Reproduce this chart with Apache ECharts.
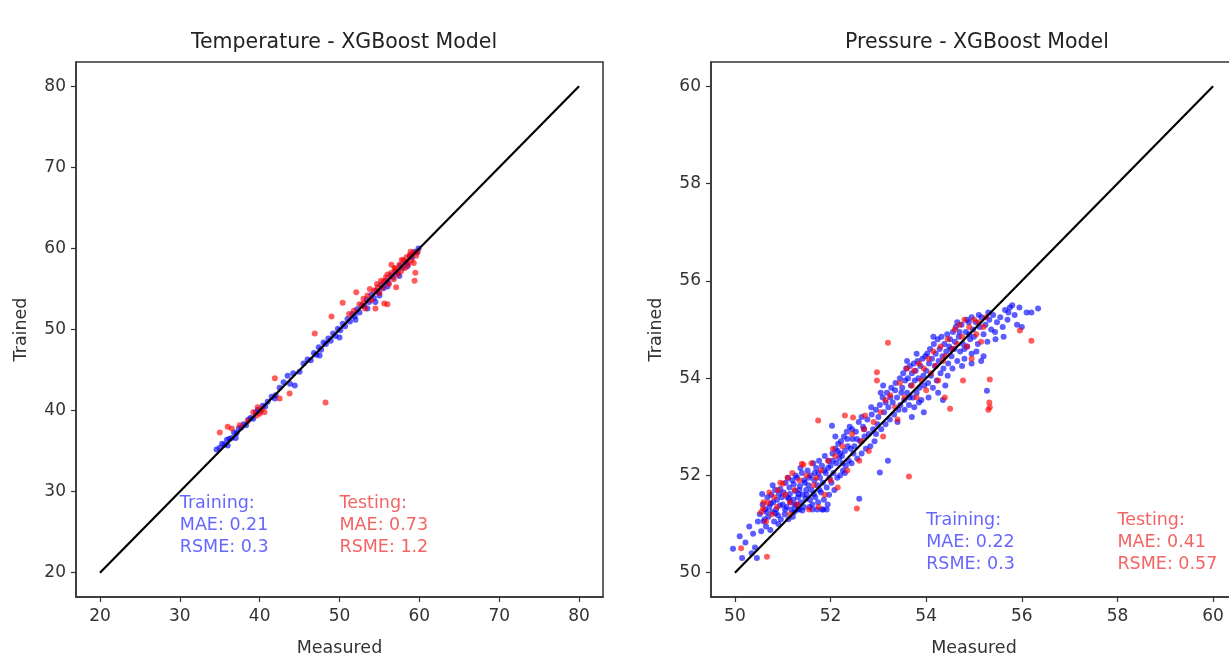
<!DOCTYPE html>
<html>
<head>
<meta charset="utf-8">
<script src="https://cdn.jsdelivr.net/npm/echarts@6/dist/echarts.min.js"></script>
<style>
html,body{margin:0;padding:0;background:#fff;}
#c{width:1229px;height:658px;}
</style>
</head>
<body>
<div id="c"></div>
<script>
// ---------- DATA ----------
var tempTitle = "Temperature - XGBoost Model";
var pressTitle = "Pressure - XGBoost Model";
var xName = "Measured";
var yName = "Trained";

var tempRange = [17, 83];
var pressRange = [49.5, 60.5];
var tempTicks = [20, 30, 40, 50, 60, 70, 80];
var pressTicks = [50, 52, 54, 56, 58, 60];
var tempLine = [[20, 20], [80, 80]];
var pressLine = [[50, 50], [60, 60]];

var tempTrain = [
[34.6,35.2],[35.0,35.4],[35.3,35.9],[35.6,35.8],[35.9,36.4],[36.2,36.5],[36.5,36.6],[36.8,37.3],[37.1,37.2],[37.4,37.8],
[37.7,37.9],[38.0,38.3],[38.3,38.2],[38.6,38.9],[38.9,39.1],[39.2,39.0],[39.5,39.8],[39.8,40.1],[40.1,39.9],[40.4,40.6],
[40.7,40.5],[41.0,41.1],[41.9,41.5],[42.5,42.8],[43.0,43.5],[43.5,44.3],[43.8,43.3],[44.2,44.6],[44.4,43.1],[45.5,45.8],
[46.0,46.3],[46.4,46.2],[46.8,47.1],[47.1,46.9],[47.4,47.8],[47.7,47.5],[48.0,48.4],[48.3,48.2],[48.6,48.9],[48.9,48.6],
[49.2,49.5],[49.5,49.2],[49.8,50.1],[50.1,49.9],[50.4,50.7],[50.7,50.4],[51.0,51.3],[51.3,51.0],[51.6,51.9],[51.9,51.6],
[52.2,52.5],[52.5,52.1],[52.8,53.0],[53.1,52.9],[53.4,53.7],[53.7,53.4],[54.0,54.3],[54.3,53.9],[54.6,54.8],[54.9,54.6],
[55.2,55.5],[55.5,55.1],[55.8,56.0],[56.1,55.8],[56.4,56.7],[56.7,56.4],[57.0,57.2],[57.3,57.0],[57.6,57.9],[57.9,57.6],
[58.2,58.4],[58.5,58.2],[58.8,59.0],[59.1,58.9],[59.4,59.6],[59.7,59.5],[59.9,60.0],[52.0,51.2],[53.5,52.6],[50.0,49.0],
[47.5,46.8],[45.0,44.8],[41.5,41.7],[42.0,41.9],[36.0,35.7],[37.0,36.6],[56.0,55.3],[57.5,56.6],[58.5,57.8],[55.0,54.2],
[54.5,53.4]
];
var tempTest = [
[35.0,37.3],[36.0,38.0],[36.5,37.8],[37.5,38.2],[38.5,38.7],[39.2,39.8],[39.75,40.4],[40.0,39.6],[39.6,39.4],[40.3,40.2],
[40.6,39.8],[41.9,44.0],[43.75,42.1],[42.5,41.5],[48.25,41.0],[46.9,49.5],[49.0,51.6],[50.4,53.3],[51.2,51.9],[51.8,52.3],
[52.1,54.6],[52.5,53.1],[53.0,53.8],[53.2,52.6],[53.5,54.2],[53.8,55.0],[54.0,53.6],[54.3,54.8],[54.5,52.6],[54.7,55.6],
[55.0,54.5],[55.2,56.0],[55.4,55.2],[55.6,53.2],[56.0,53.1],[55.8,56.4],[56.0,56.8],[56.2,55.6],[56.5,57.0],[56.5,58.0],
[56.8,56.2],[57.0,57.5],[57.1,55.2],[57.3,56.8],[57.5,58.0],[57.7,57.2],[58.0,58.5],[58.2,57.6],[58.4,58.9],[58.6,58.0],
[58.8,59.2],[59.0,58.5],[59.2,59.4],[59.4,56.0],[59.5,57.0],[59.6,59.1],[59.8,59.6],[53.0,53.2],[54.8,55.2],[55.5,55.9],
[56.9,57.6],[57.8,58.6],[58.9,59.6],[59.3,58.2]
];

var pressTrain = [
[49.96,50.49],[50.15,50.30],[50.38,50.80],[50.46,50.30],[50.22,50.62],[50.30,50.95],[50.42,50.52],[50.10,50.75],[50.48,51.05],[50.35,50.40],
[50.52,51.20],[50.55,50.85],[50.58,51.40],[50.60,51.05],[50.63,51.30],[50.65,50.95],[50.68,51.55],[50.70,51.15],[50.72,51.35],[50.74,50.88],
[50.76,51.60],[50.78,51.25],[50.80,51.45],[50.82,51.05],[50.84,51.70],[50.86,51.30],[50.88,51.50],[50.90,51.18],[50.92,51.62],[50.94,51.38],
[50.96,51.10],[50.98,51.55],[50.62,51.10],[50.75,51.42],[50.85,51.22],[50.95,51.72],[50.57,51.62],[50.66,51.25],[50.79,51.80],[50.91,51.00],
[51.00,51.40],[51.02,51.65],[51.04,51.20],[51.06,51.85],[51.08,51.35],[51.10,51.55],[51.12,51.10],[51.14,51.75],[51.16,51.45],[51.18,51.30],
[51.20,51.90],[51.22,51.50],[51.24,51.25],[51.26,51.68],[51.28,51.40],[51.30,51.95],[51.32,51.55],[51.34,51.30],[51.36,51.78],[51.38,51.45],
[51.40,52.05],[51.42,51.60],[51.44,51.35],[51.46,51.85],[51.48,51.52],[51.05,51.30],[51.15,51.62],[51.25,51.38],[51.35,51.70],[51.45,51.90],
[51.11,51.95],[51.21,51.15],[51.31,51.30],[51.41,51.28],[51.49,51.70],[51.27,52.00],[51.37,52.15],[51.13,51.52],[51.23,51.82],[51.33,51.62],
[51.50,51.60],[51.52,52.10],[51.54,51.80],[51.56,51.35],[51.58,52.00],[51.60,51.70],[51.62,51.40],[51.64,52.25],[51.66,51.90],[51.68,51.55],
[51.70,52.15],[51.72,51.80],[51.74,51.45],[51.76,52.30],[51.78,51.95],[51.80,51.65],[51.82,52.20],[51.84,51.85],[51.86,51.50],[51.88,52.40],
[51.90,52.05],[51.92,51.75],[51.94,51.40],[51.96,52.30],[51.98,51.95],[51.55,51.95],[51.65,51.62],[51.75,52.05],[51.85,51.30],[51.95,52.15],
[51.57,51.50],[51.67,52.05],[51.77,51.70],[51.87,52.10],[51.97,51.60],[51.62,51.30],[51.72,51.30],[51.82,51.30],[51.92,51.30],[52.03,53.02],
[52.00,52.20],[52.02,51.85],[52.04,52.45],[52.06,52.05],[52.08,51.70],[52.10,52.55],[52.12,52.25],[52.14,51.95],[52.16,52.65],[52.18,52.35],
[52.20,52.00],[52.22,52.70],[52.24,52.40],[52.26,52.10],[52.28,52.80],[52.30,52.50],[52.32,52.20],[52.34,52.90],[52.36,52.60],[52.38,52.30],
[52.40,53.00],[52.42,52.55],[52.44,52.25],[52.46,52.75],[52.48,52.45],[52.05,52.30],[52.15,52.50],[52.25,52.25],[52.35,52.75],[52.45,52.95],
[52.60,51.52],[52.10,52.80],[52.30,52.05],[52.20,52.45],
[52.50,52.60],[52.53,52.90],[52.56,52.35],[52.59,53.10],[52.62,52.70],[52.65,52.45],[52.68,53.00],[52.71,52.80],[52.74,52.55],[52.77,53.15],
[52.80,52.85],[52.83,52.60],[52.86,53.25],[52.89,52.95],[52.92,52.70],[52.95,53.35],[52.98,53.05],[53.03,52.06],[52.55,52.75],[52.70,52.95],
[52.85,53.40],[52.95,52.85],[52.65,53.20],
[53.00,53.20],[53.03,53.45],[53.06,52.95],[53.09,53.60],[53.12,53.30],[53.15,53.05],[53.18,53.70],[53.20,52.30],[53.21,53.40],[53.24,53.15],
[53.27,53.80],[53.30,53.50],[53.33,53.25],[53.36,53.90],[53.39,53.60],[53.42,53.35],[53.45,54.00],[53.48,53.70],[53.10,53.85],[53.25,53.60],
[53.40,53.10],[53.35,53.75],[53.15,53.50],[53.46,53.45],[53.05,53.70],
[53.50,53.80],[53.52,54.10],[53.54,53.55],[53.56,53.95],[53.58,54.20],[53.60,53.70],[53.62,54.00],[53.64,53.45],[53.66,54.25],[53.68,53.85],
[53.70,54.10],[53.72,53.60],[53.74,54.30],[53.76,53.95],[53.78,54.15],[53.80,53.70],[53.82,54.35],[53.84,54.00],[53.86,53.80],[53.88,54.25],
[53.90,53.55],[53.92,54.40],[53.94,54.05],[53.96,53.85],[53.98,54.45],[53.55,53.35],[53.65,53.60],[53.75,53.40],[53.85,53.50],[53.95,53.30],
[53.60,54.35],[53.80,54.50],[53.70,53.20],
[54.00,54.15],[54.02,54.50],[54.04,53.90],[54.06,54.30],[54.08,54.60],[54.10,54.05],[54.12,54.40],[54.14,53.80],[54.16,54.70],[54.18,54.25],
[54.20,54.50],[54.22,53.95],[54.24,54.80],[54.26,54.35],[54.28,54.60],[54.30,54.10],[54.32,54.85],[54.34,54.45],[54.36,54.20],[54.38,54.70],
[54.40,53.85],[54.42,54.55],[54.44,54.90],[54.46,54.30],[54.48,54.65],[54.05,53.60],[54.25,53.70],[54.35,53.55],[54.15,54.85],[54.45,54.05],
[54.50,54.80],[54.53,54.45],[54.56,54.95],[54.59,54.60],[54.62,55.05],[54.65,54.35],[54.68,54.85],[54.71,54.55],[54.74,55.10],[54.77,54.70],
[54.80,54.40],[54.83,54.95],[54.86,54.65],[54.89,55.15],[54.92,54.80],[54.95,54.50],[54.98,55.00],[54.55,54.20],[54.70,54.95],[54.85,55.20],
[54.60,54.75],[54.75,54.25],[54.90,54.90],[54.65,55.15],[54.80,54.60],[54.95,55.25],[54.52,54.60],[54.95,54.30],
[55.00,54.85],[55.04,55.15],[55.08,54.70],[55.12,55.05],[55.16,55.25],[55.20,54.90],[55.24,55.10],[55.28,54.75],[55.32,55.20],[55.36,55.00],
[55.40,55.30],[55.44,54.95],[55.48,55.15],[55.27,53.74],[55.10,55.30],[55.30,55.35],[55.05,54.55],[55.20,54.45],[55.45,54.80],[55.15,54.35],
[55.55,55.25],[55.60,55.05],[55.65,55.40],[55.70,55.20],[55.75,55.45],[55.80,55.50],[55.85,55.30],[55.90,55.10],[55.62,54.85],[55.72,55.35],
[56.10,55.35],[56.20,55.35],[56.34,55.43],[55.95,55.45],[56.00,55.05]
];
var pressTest = [
[50.13,50.50],[50.67,50.33],[50.55,51.25],[50.60,51.45],[50.65,51.05],[50.69,51.44],[50.59,51.32],[50.72,51.65],[50.78,51.20],[50.82,51.55],
[50.88,51.35],[50.95,51.85],[51.00,51.83],[51.05,51.60],[51.10,51.95],[51.15,51.45],[51.20,52.05],[51.25,51.70],[51.30,51.40],[51.40,52.24],
[51.43,52.22],[51.35,51.90],[51.50,52.00],[51.55,51.30],[51.60,52.25],[51.65,51.80],[51.74,53.13],[51.75,51.35],[51.80,52.10],[51.88,51.60],
[51.95,52.30],[52.00,51.90],[52.10,52.40],[52.15,51.75],[52.25,52.60],[52.30,53.23],[52.35,52.10],[52.47,53.19],[52.45,52.85],[52.55,51.32],
[52.60,52.30],[52.72,53.23],[52.70,52.95],[52.80,52.50],[52.90,53.10],[52.97,54.12],[52.97,53.95],[53.05,53.30],[53.10,52.80],[53.20,54.73],
[53.25,53.65],[53.35,53.40],[53.45,53.90],[53.55,53.60],[53.64,51.98],[53.60,54.20],[53.70,53.85],[53.75,54.15],[53.80,53.60],[53.85,54.30],
[53.90,53.95],[53.95,54.20],[54.00,53.75],[54.05,54.40],[54.10,54.10],[54.15,54.55],[54.20,54.25],[54.25,53.95],[54.30,54.65],[54.39,53.60],
[54.40,54.45],[54.50,53.37],[54.45,54.80],[54.55,54.60],[54.60,55.00],[54.65,54.70],[54.70,55.10],[54.77,53.95],[54.75,54.85],[54.80,55.20],
[54.85,54.65],[54.90,55.05],[55.00,55.20],[55.05,54.90],[55.10,55.15],[55.15,54.75],[55.20,55.05],[55.33,53.40],[55.30,53.35],[55.32,53.50],
[55.33,53.97],[55.96,54.98],[56.20,54.77],[54.95,54.40],[53.40,53.15],[52.65,52.70],[51.70,51.95],[51.15,51.20],[50.90,51.70],[53.15,53.55],
[54.35,54.35],[55.25,55.25],[52.05,52.55]
];

var tempTrainText = "Training:\nMAE: 0.21\nRSME: 0.3";
var tempTestText = "Testing:\nMAE: 0.73\nRSME: 1.2";
var pressTrainText = "Training:\nMAE: 0.22\nRSME: 0.3";
var pressTestText = "Testing:\nMAE: 0.41\nRSME: 0.57";
var tempTextPos = [[30, 21.7], [50, 21.7]];
var pressTextPos = [[54, 49.95], [58, 49.95]];

// ---------- STYLE / OPTION ----------
var FONT = "DejaVu Sans";
var AX = "#333";
var BLUE = "rgba(0,0,255,0.8)";
var RED = "rgba(255,0,0,0.8)";
var BLUE_T = "#4040ff";
var RED_T = "#f03c3c";

function mkX(idx, range, ticks) {
  return {
    type: 'value', gridIndex: idx, min: range[0], max: range[1],
    name: xName, nameLocation: 'middle', nameGap: 42,
    nameTextStyle: {fontFamily: FONT, fontSize: 17.5, color: '#333'},
    splitLine: {show: false},
    axisLine: {show: true, onZero: false, lineStyle: {color: AX, width: 1.5}},
    axisTick: {show: true, length: 5, inside: false, customValues: ticks, lineStyle: {color: AX, width: 1.2}},
    axisLabel: {customValues: ticks, margin: 11, fontFamily: FONT, fontSize: 17, color: '#333'}
  };
}
function mkY(idx, range, ticks) {
  return {
    type: 'value', gridIndex: idx, min: range[0], max: range[1],
    name: yName, nameLocation: 'middle', nameGap: 46, nameRotate: 90,
    nameTextStyle: {fontFamily: FONT, fontSize: 17.5, color: '#333'},
    splitLine: {show: false},
    axisLine: {show: true, onZero: false, lineStyle: {color: AX, width: 1.5}},
    axisTick: {show: true, length: 5, inside: false, customValues: ticks, lineStyle: {color: AX, width: 1.2}},
    axisLabel: {customValues: ticks, margin: 10, fontFamily: FONT, fontSize: 17, color: '#333'}
  };
}
function pts(idx, data, color) {
  return {
    type: 'scatter', xAxisIndex: idx, yAxisIndex: idx, data: data,
    symbol: 'circle', symbolSize: 6, itemStyle: {color: color}, z: 2, silent: true
  };
}
function line(idx, data) {
  return {
    type: 'line', xAxisIndex: idx, yAxisIndex: idx, data: data,
    showSymbol: false, symbol: 'none', lineStyle: {color: '#000', width: 2.2}, z: 5, silent: true
  };
}
function txt(idx, pos, text, color) {
  return {
    type: 'scatter', xAxisIndex: idx, yAxisIndex: idx, data: [pos],
    symbolSize: 0, z: 6, silent: true,
    label: {
      show: true, position: [0, 0], align: 'left', verticalAlign: 'bottom',
      formatter: text, fontFamily: FONT, fontSize: 17.5, lineHeight: 22, color: color
    }
  };
}

var chart = echarts.init(document.getElementById('c'), null, {renderer: 'canvas'});
chart.setOption({
  backgroundColor: '#fff',
  animation: false,
  title: [
    {text: tempTitle, left: 339, top: 27, textAlign: 'center',
     textStyle: {fontFamily: FONT, fontSize: 20.5, fontWeight: 'normal', color: '#222'}},
    {text: pressTitle, left: 972, top: 27, textAlign: 'center',
     textStyle: {fontFamily: FONT, fontSize: 20.5, fontWeight: 'normal', color: '#222'}}
  ],
  grid: [
    {left: 76, top: 62, width: 527, height: 535, outerBoundsMode: 'none', containLabel: false,
     show: true, borderColor: AX, borderWidth: 1.5, backgroundColor: 'transparent'},
    {left: 711, top: 62, width: 526, height: 535, outerBoundsMode: 'none', containLabel: false,
     show: true, borderColor: AX, borderWidth: 1.5, backgroundColor: 'transparent'}
  ],
  xAxis: [mkX(0, tempRange, tempTicks), mkX(1, pressRange, pressTicks)],
  yAxis: [mkY(0, tempRange, tempTicks), mkY(1, pressRange, pressTicks)],
  series: [
    pts(0, tempTrain, BLUE), pts(0, tempTest, RED), line(0, tempLine),
    txt(0, tempTextPos[0], tempTrainText, BLUE_T), txt(0, tempTextPos[1], tempTestText, RED_T),
    pts(1, pressTrain, BLUE), pts(1, pressTest, RED), line(1, pressLine),
    txt(1, pressTextPos[0], pressTrainText, BLUE_T), txt(1, pressTextPos[1], pressTestText, RED_T)
  ]
});
</script>
</body>
</html>
